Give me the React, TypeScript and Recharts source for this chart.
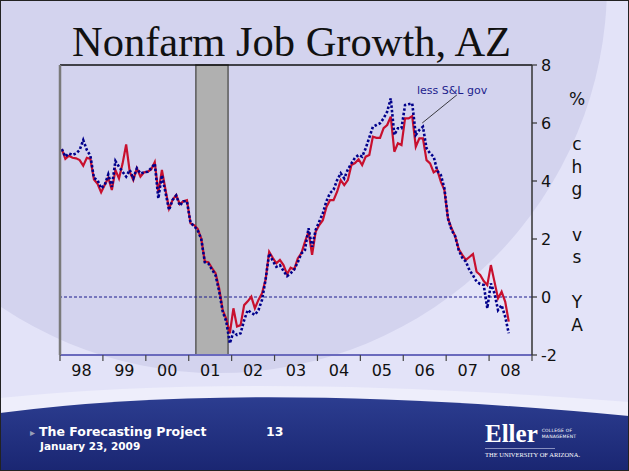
import React from "react";
import { LineChart, Line, XAxis, YAxis, ReferenceArea, ReferenceLine } from "recharts";

// months counted from Jan 1998, year-over-year % change
const yearLabels = ["98", "99", "00", "01", "02", "03", "04", "05", "06", "07", "08"];
const yTicks = [-2, 0, 2, 4, 6, 8];
const recession = [38, 47]; // Mar 2001 .. Nov 2001

const totalJobs = [
  5.1, 4.76, 4.87, 4.8, 4.78, 4.72, 4.53, 4.8, 4.76, 4.05, 3.9, 3.61,
  3.86, 4.11, 3.69, 4.38, 4.09, 4.6, 5.26, 4.32, 4.03, 4.44, 4.15, 4.3,
  4.32, 4.4, 4.65, 3.6, 4.38, 3.7, 3.05, 3.35, 3.52, 3.2, 3.3, 3.34,
  2.54, 2.48, 2.35, 2.02, 1.22, 1.2, 1.0, 0.82, 0.3, -0.45, -0.75, -1.25,
  -0.39, -1.02, -0.97, -0.28, -0.15, 0.01, -0.39, -0.1, 0.13, 0.6, 1.56, 1.35,
  1.16, 1.28, 1.1, 0.79, 1.01, 0.95, 1.33, 1.51, 1.9, 2.25, 1.45, 2.25,
  2.48, 2.65, 3.1, 3.34, 3.34, 3.63, 4.03, 3.86, 4.03, 4.55, 4.62, 4.75,
  4.55, 4.84, 4.9, 5.53, 5.49, 5.49, 5.82, 5.93, 6.22, 5.01, 5.3, 5.24,
  6.16, 6.16, 6.24, 5.18, 5.47, 5.47, 4.72, 4.61, 4.3, 4.38, 3.98, 3.69,
  2.71, 2.37, 2.1, 1.65, 1.45, 1.28, 1.38, 1.48, 0.87, 0.76, 0.55, 0.41,
  1.1, 0.53, -0.05, 0.18, -0.16, -0.85,
];

const lessStateLocalGov = [
  5.1, 4.84, 4.95, 4.9, 4.95, 5.07, 5.41, 5.07, 4.87, 4.1, 4.03, 3.75,
  3.86, 4.23, 3.8, 4.69, 4.49, 4.32, 4.15, 4.38, 4.09, 4.44, 4.26, 4.3,
  4.32, 4.44, 4.6, 3.4, 4.2, 3.6, 3.0, 3.35, 3.5, 3.15, 3.3, 3.3,
  2.55, 2.45, 2.3, 2.0, 1.2, 1.15, 0.95, 0.75, 0.2, -0.5, -0.85, -1.6,
  -1.2, -1.31, -1.25, -0.8, -0.45, -0.55, -0.62, -0.45, -0.1, 0.6, 1.5, 1.25,
  1.04, 1.1, 0.9, 0.72, 0.82, 0.95, 1.2, 1.5, 1.62, 2.37, 1.73, 2.31,
  2.6, 2.89, 3.3, 3.58, 3.7, 4.03, 4.27, 4.09, 4.4, 4.61, 4.8, 4.9,
  4.84, 5.13, 5.5, 5.87, 5.93, 5.99, 6.16, 6.39, 6.85, 5.59, 5.82, 5.82,
  6.62, 6.65, 6.68, 5.59, 5.76, 5.87, 5.13, 4.95, 4.84, 4.35, 4.21, 3.75,
  2.71, 2.31, 2.1, 1.62, 1.35, 1.22, 0.93, 0.75, 0.53, 0.45, 0.41, -0.39,
  0.47, 0.13, -0.45, -0.28, -0.68, -1.25,
];

const data = totalJobs.map((v, i) => ({
  month: i + 0.5,
  total: v,
  lessSL: lessStateLocalGov[i],
}));

const xTicks = Array.from({ length: yearLabels.length * 2 + 1 }, (_, i) => i * 6);

const sans = "'DejaVu Sans', Verdana, sans-serif";

function YearTick(props: any) {
  const { x, y, payload } = props;
  const v = payload.value;
  if (v % 12 === 0) {
    return <line x1={x} x2={x} y1={y} y2={y + 6} stroke="#444" strokeWidth={1.2} />;
  }
  return (
    <text x={x} y={y + 21} textAnchor="middle" fontSize={16} fill="#111" fontFamily={sans}>
      {yearLabels[(v - 6) / 12]}
    </text>
  );
}

function Backdrop() {
  return (
    <svg width={629} height={471} style={{ position: "absolute", left: 0, top: 0 }}>
      <defs>
        <linearGradient id="foot" x1="0" y1="0" x2="0" y2="1">
          <stop offset="0%" stopColor="#2c3d90" />
          <stop offset="100%" stopColor="#1a2672" />
        </linearGradient>
      </defs>
      <rect x={0} y={0} width={629} height={471} fill="#e3e3f8" />
      <circle cx={218} cy={-16} r={389} fill="#d3d3ee" />
      <path d="M0,398 Q250,372 629,402 L629,471 L0,471 Z" fill="#eeeefb" />
      <path d="M0,413 Q250,380 629,416 L629,471 L0,471 Z" fill="url(#foot)" />
      <rect x={0.5} y={0.5} width={628} height={470} fill="none" stroke="#222" strokeWidth={1} />
    </svg>
  );
}

export default function App() {
  const stack = ["%", "", "c", "h", "g", "", "v", "s", "", "Y", "A"];
  return (
    <div style={{ position: "absolute", left: 0, top: 0, width: 629, height: 471, overflow: "hidden" }}>
      <Backdrop />
      <div
        style={{
          position: "absolute",
          left: 0,
          width: 583,
          top: 18,
          textAlign: "center",
          fontFamily: "'Liberation Serif', 'Times New Roman', serif",
          fontSize: 42.5,
          color: "#111",
          lineHeight: "48px",
          whiteSpace: "nowrap",
        }}
      >
        Nonfarm Job Growth, AZ
      </div>

      <div style={{ position: "absolute", left: 0, top: 0 }}>
        <LineChart width={629} height={471} data={data} margin={{ top: 65, right: 57, bottom: 86, left: 50 }}>
          <ReferenceArea
            yAxisId="r"
            x1={recession[0]}
            x2={recession[1]}
            fill="#b0b0b0"
            fillOpacity={1}
            stroke="#5a5a5a"
            strokeWidth={1.5}
          />
          <XAxis
            type="number"
            dataKey="month"
            domain={[0, 132]}
            ticks={xTicks}
            interval={0}
            allowDataOverflow
            height={30}
            tickSize={0}
            tickMargin={0}
            tickLine={false}
            axisLine={{ stroke: "#6a6abd", strokeWidth: 2 }}
            tick={(p: any) => <YearTick {...p} />}
          />
          <YAxis
            yAxisId="l"
            orientation="left"
            type="number"
            domain={[-2, 8]}
            ticks={yTicks}
            width={10}
            tick={false}
            tickSize={5}
            tickLine={{ stroke: "#7a7a7a", strokeWidth: 1.2 }}
            axisLine={{ stroke: "#7a7a7a", strokeWidth: 2.5 }}
          />
          <YAxis
            yAxisId="r"
            orientation="right"
            type="number"
            domain={[-2, 8]}
            ticks={yTicks}
            interval={0}
            width={40}
            tickSize={5}
            tickMargin={4}
            tick={{ fontSize: 16, fill: "#111", fontFamily: sans }}
            tickLine={{ stroke: "#333", strokeWidth: 1.2 }}
            axisLine={{ stroke: "#333", strokeWidth: 1.5 }}
          />
          <ReferenceLine yAxisId="r" y={8} stroke="#111" strokeWidth={1.5} />
          <ReferenceLine yAxisId="r" y={0} stroke="#1a1a8c" strokeWidth={1} strokeDasharray="3 2" />
          <ReferenceLine
            yAxisId="r"
            segment={[
              { x: 101.3, y: 6.0 },
              { x: 111, y: 6.97 },
            ]}
            stroke="#111"
            strokeWidth={0.8}
          />
          <Line
            yAxisId="r"
            type="linear"
            dataKey="total"
            stroke="#c8102e"
            strokeWidth={2.2}
            dot={false}
            isAnimationActive={false}
          />
          <Line
            yAxisId="r"
            type="linear"
            dataKey="lessSL"
            stroke="#00008b"
            strokeWidth={2.6}
            strokeDasharray="2.5 2"
            dot={false}
            isAnimationActive={false}
          />
        </LineChart>
      </div>

      <div
        style={{
          position: "absolute",
          left: 417,
          top: 84,
          fontFamily: sans,
          fontSize: 11,
          color: "#1c1c8c",
          whiteSpace: "nowrap",
        }}
      >
        less S&amp;L gov
      </div>

      <div
        style={{
          position: "absolute",
          left: 567,
          width: 20,
          top: 88,
          textAlign: "center",
          fontFamily: sans,
          fontSize: 17,
          lineHeight: "22.6px",
          color: "#111",
        }}
      >
        {stack.map((c, i) => (
          <div key={i} style={{ height: 22.6 }}>
            {c}
          </div>
        ))}
      </div>

      <div style={{ position: "absolute", left: 30, top: 424, color: "#fff", fontFamily: sans, fontWeight: 700 }}>
        <div style={{ fontSize: 12.5, lineHeight: "15px" }}>
          <span style={{ color: "#9aa0b8", fontSize: 10, marginRight: 4 }}>▸</span>
          The Forecasting Project
        </div>
        <div style={{ fontSize: 10.5, lineHeight: "13px", marginLeft: 10 }}>January 23, 2009</div>
      </div>
      <div
        style={{
          position: "absolute",
          left: 266,
          top: 424,
          color: "#fff",
          fontFamily: sans,
          fontWeight: 700,
          fontSize: 12.5,
        }}
      >
        13
      </div>

      <div style={{ position: "absolute", left: 485, top: 421, color: "#fff" }}>
        <div style={{ display: "flex", alignItems: "center" }}>
          <span style={{ fontFamily: "'Liberation Serif', serif", fontSize: 25, fontWeight: 700, lineHeight: "26px" }}>
            Eller
          </span>
          <span style={{ fontFamily: sans, fontSize: 4.5, lineHeight: "6px", marginLeft: 4, letterSpacing: 0.2 }}>
            COLLEGE OF
            <br />
            MANAGEMENT
          </span>
        </div>
        <div style={{ borderTop: "1px solid #8890c0", width: 70, marginTop: 1 }} />
        <div style={{ fontFamily: "'Liberation Serif', serif", fontSize: 6.5, marginTop: 2, whiteSpace: "nowrap" }}>
          THE UNIVERSITY OF ARIZONA.
        </div>
      </div>
    </div>
  );
}
